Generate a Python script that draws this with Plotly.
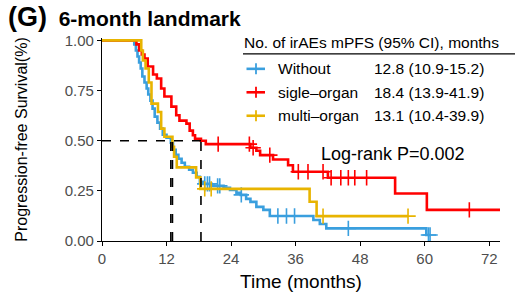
import plotly.graph_objects as go

# ---------------- data ----------------
groups = ["Without", "sigle–organ", "multi–organ"]
mpfs_text = ["12.8 (10.9-15.2)", "18.4 (13.9-41.9)", "13.1 (10.4-39.9)"]
medians = [12.8, 18.4, 13.1]
colors = ["#3A9FDE", "#FF0000", "#E8B400"]

without_t = [6.0, 6.3, 6.6, 6.9, 7.2, 7.5, 7.9, 8.3, 8.6, 9.0, 9.4, 9.8, 10.3, 10.8,
             11.3, 12.0, 12.8, 13.2, 13.7, 14.2, 14.8, 15.4, 16.2, 16.9, 17.6, 18.2,
             18.9, 20.4, 22.6, 23.8, 25.0, 25.8, 26.8, 27.6, 28.7, 30.0, 31.2, 39.3,
             40.5, 41.7, 60.3]
without_s = [0.98, 0.95, 0.92, 0.89, 0.86, 0.82, 0.79, 0.76, 0.73, 0.70, 0.66, 0.62,
             0.59, 0.56, 0.53, 0.515, 0.49, 0.455, 0.43, 0.41, 0.39, 0.37, 0.355, 0.34,
             0.32, 0.295, 0.285, 0.275, 0.265, 0.255, 0.24, 0.23, 0.21, 0.195, 0.17,
             0.155, 0.125, 0.105, 0.085, 0.063, 0.03]
without_cens = [19.1, 19.6, 20.0, 21.5, 21.9, 25.9, 32.7, 34.3, 35.8, 45.8, 60.7, 61.0]
without_end = 61.0

single_t = [6.4, 6.9, 7.4, 7.9, 8.5, 9.5, 10.2, 11.0, 11.6, 12.9, 13.8, 14.4, 15.7,
            16.3, 16.9, 17.3, 18.4, 19.3, 27.6, 28.7, 29.4, 31.8, 34.6, 35.5, 42.0,
            54.5, 60.4]
single_s = [0.98, 0.95, 0.93, 0.91, 0.87, 0.83, 0.81, 0.76, 0.72, 0.67, 0.627, 0.60,
            0.585, 0.55, 0.527, 0.51, 0.50, 0.483, 0.465, 0.45, 0.428, 0.406, 0.378,
            0.345, 0.315, 0.237, 0.155]
single_cens = [21.6, 27.4, 28.1, 31.2, 36.5, 38.3, 41.1, 42.6, 44.4, 45.8, 47.0, 49.2, 68.3]
single_end = 74.0

multi_t = [7.3, 7.6, 8.1, 8.7, 9.2, 10.4, 11.0, 11.6, 13.1, 13.4, 13.9, 17.5, 18.3,
           38.6, 39.9]
multi_s = [0.95, 0.90, 0.86, 0.79, 0.685, 0.643, 0.56, 0.52, 0.47, 0.42, 0.367,
           0.317, 0.26, 0.196, 0.124]
multi_cens = [19.1, 20.3, 41.1, 56.9]
multi_end = 56.9

x_ticks = [0, 12, 24, 36, 48, 60, 72]
y_ticks = [0.0, 0.25, 0.5, 0.75, 1.0]
y_ticklabels = ["0.00", "0.25", "0.50", "0.75", "1.00"]

# ---------------- layout geometry ----------------
W, H = 515, 293
L, R, T, B = 102, 15, 37.6, 52
PW, PH = W - L - R, H - T - B


def px(xp):
    return (xp - L) / PW


def py(yp):
    return (H - B - yp) / PH


def step_at(times, surv, t):
    val = 1.0
    for ti, si in zip(times, surv):
        if ti <= t:
            val = si
    return val


fig = go.Figure()

series = [(without_t, without_s, without_cens, without_end),
          (single_t, single_s, single_cens, single_end),
          (multi_t, multi_s, multi_cens, multi_end)]

for (tt, ss, cc, end), name, col in zip(series, groups, colors):
    fig.add_trace(go.Scatter(
        x=[0] + tt + [end], y=[1.0] + ss + [ss[-1]],
        mode="lines", line=dict(color=col, width=2.6, shape="hv"),
        name=name, showlegend=False, hoverinfo="skip"))
    fig.add_trace(go.Scatter(
        x=cc, y=[step_at(tt, ss, c) for c in cc],
        mode="markers",
        marker=dict(symbol="cross-thin-open", size=11, color=col,
                    line=dict(color=col, width=1.6)),
        showlegend=False, hoverinfo="skip"))

# median lines
fig.add_trace(go.Scatter(x=[0, max(medians)], y=[0.5, 0.5], mode="lines",
                         line=dict(color="black", width=1.6, dash="dash"),
                         showlegend=False, hoverinfo="skip"))
for m in medians:
    fig.add_trace(go.Scatter(x=[m, m], y=[0, 0.5], mode="lines",
                             line=dict(color="black", width=1.6, dash="dash"),
                             showlegend=False, hoverinfo="skip"))

font = "Liberation Sans, Arial, sans-serif"

annotations = []
shapes = []

# title
annotations.append(dict(
    x=px(6), y=py(17), xref="paper", yref="paper", xanchor="left", yanchor="middle",
    text="<b><span style='font-size:27px'>(G)</span>  6-month landmark</b>",
    showarrow=False, font=dict(family=font, size=21, color="black")))

# legend table
annotations.append(dict(
    x=px(242), y=py(42), xref="paper", yref="paper", xanchor="left", yanchor="middle",
    text="No. of irAEs mPFS (95% CI), months", showarrow=False,
    font=dict(family=font, size=15.5, color="black")))
shapes.append(dict(type="line", xref="paper", yref="paper",
                   x0=px(243), x1=px(515), y0=py(53.5), y1=py(53.5),
                   line=dict(color="black", width=1.2)))
row_y = [68.5, 92, 115.5]
for name, txt, col, ry in zip(groups, mpfs_text, colors, row_y):
    shapes.append(dict(type="line", xref="paper", yref="paper",
                       x0=px(246.5), x1=px(265), y0=py(ry), y1=py(ry),
                       line=dict(color=col, width=2.6)))
    shapes.append(dict(type="line", xref="paper", yref="paper",
                       x0=px(256), x1=px(256), y0=py(ry - 5.5), y1=py(ry + 5.5),
                       line=dict(color=col, width=1.8)))
    annotations.append(dict(
        x=px(276), y=py(ry), xref="paper", yref="paper", xanchor="left",
        yanchor="middle", text=name, showarrow=False,
        font=dict(family=font, size=15.5, color="black")))
    annotations.append(dict(
        x=px(372), y=py(ry), xref="paper", yref="paper", xanchor="left",
        yanchor="middle", text=txt, showarrow=False,
        font=dict(family=font, size=15.5, color="black")))

# log-rank
annotations.append(dict(
    x=px(319), y=py(153.5), xref="paper", yref="paper", xanchor="left",
    yanchor="middle", text="Log-rank P=0.002", showarrow=False,
    font=dict(family=font, size=18, color="black")))

fig.update_layout(
    width=W, height=H,
    margin=dict(l=L, r=R, t=T, b=B, pad=0, autoexpand=False),
    paper_bgcolor="white", plot_bgcolor="white",
    font=dict(family=font, color="black"),
    annotations=annotations, shapes=shapes,
    showlegend=False,
    xaxis=dict(range=[0, 74.0], tickmode="array", tickvals=x_ticks,
               showline=True, linecolor="black", linewidth=1.1, mirror=False,
               ticks="outside", ticklen=4, tickwidth=1.1, tickcolor="black",
               showgrid=False, zeroline=False, automargin=False,
               tickfont=dict(family=font, size=15, color="#4D4D4D"),
               title=dict(text="Time (months)", standoff=8,
                          font=dict(family=font, size=19, color="black"))),
    yaxis=dict(range=[0, 1.012], tickmode="array", tickvals=y_ticks,
               ticktext=y_ticklabels,
               showline=True, linecolor="black", linewidth=1.1,
               ticks="outside", ticklen=4, tickwidth=1.1, tickcolor="black",
               showgrid=False, zeroline=False, automargin=False,
               tickfont=dict(family=font, size=15, color="#4D4D4D"),
               title=dict(text="Progression-free Survival(%)", standoff=33,
                          font=dict(family=font, size=16, color="black"))),
)

fig.write_html("out.html", config={"displayModeBar": False},
               post_script="document.body.style.margin='0px';"
                           "document.body.style.padding='0px';"
                           "document.documentElement.style.overflow='hidden';")
